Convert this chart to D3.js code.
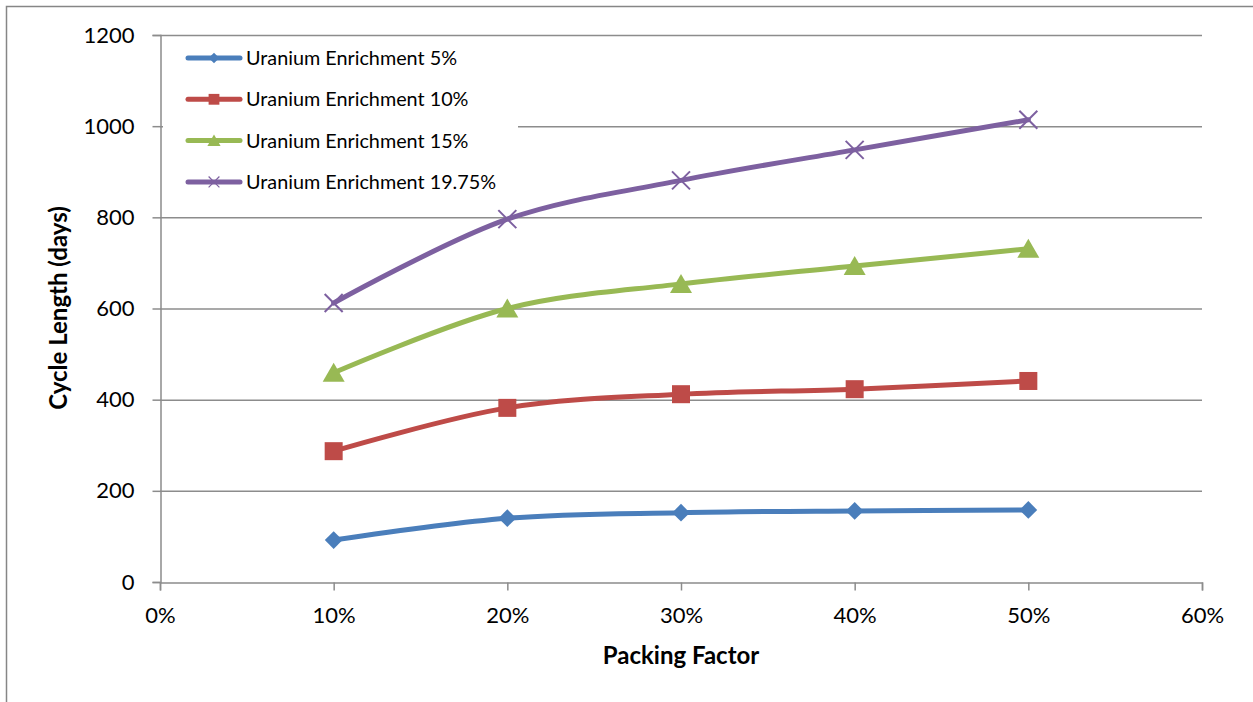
<!DOCTYPE html>
<html>
<head>
<meta charset="utf-8">
<script src="https://cdn.jsdelivr.net/npm/d3@7"></script>
<style>
  body { margin: 0; background: #fff; }
  svg { font-family: Lato, "Open Sans", sans-serif; }
</style>
</head>
<body>
<div id="chart"></div>
<script>
// data
const packing = [0.1, 0.2, 0.3, 0.4, 0.5];
const enrich5 = [92, 140, 152, 156, 158];
const enrich10 = [287, 382, 412, 423, 441];
const enrich15 = [459, 600, 654, 693, 731];
const enrich1975 = [612, 796, 881, 948, 1014];
const seriesNames = ["Uranium Enrichment 5%", "Uranium Enrichment 10%", "Uranium Enrichment 15%", "Uranium Enrichment 19.75%"];
const xTicks = [0, 0.1, 0.2, 0.3, 0.4, 0.5, 0.6];
const yTicks = [0, 200, 400, 600, 800, 1000, 1200];

const W = 1253, H = 702;
const svg = d3.select("#chart").append("svg").attr("width", W).attr("height", H);

// outer chart border
svg.append("rect").attr("x", 6.5).attr("y", 6.5).attr("width", W + 10).attr("height", H + 10)
  .attr("fill", "none").attr("stroke", "#868686").attr("stroke-width", 1.5);

const x = d3.scaleLinear().domain([0, 0.6]).range([160, 1202]);
const y = d3.scaleLinear().domain([0, 1200]).range([582, 35]);

// gridlines
svg.append("g").selectAll("line").data(yTicks.filter(d => d > 0)).enter().append("line")
  .attr("x1", x(0)).attr("x2", x(0.6))
  .attr("y1", d => y(d) + 0.5).attr("y2", d => y(d) + 0.5)
  .attr("stroke", "#8c8c8c").attr("stroke-width", 1.5);

// axes
const yAxis = svg.append("g").attr("transform", "translate(" + (x(0) + 0.5) + ",0)")
  .call(d3.axisLeft(y).tickValues(yTicks).tickSize(8).tickPadding(18).tickFormat(d3.format("d")));
const xAxis = svg.append("g").attr("transform", "translate(0," + (y(0) + 0.5) + ")")
  .call(d3.axisBottom(x).tickValues(xTicks).tickSize(8).tickPadding(17).tickFormat(d3.format(".0%")));
[yAxis, xAxis].forEach(a => {
  a.select(".domain").attr("stroke", "#8c8c8c").attr("stroke-width", 1.5);
  a.selectAll(".tick line").attr("stroke", "#8c8c8c").attr("stroke-width", 1.5);
  a.selectAll("text").attr("fill", "#000").style("font-size", "22px").style("font-family", "Lato, 'Open Sans', sans-serif");
});

// axis titles
svg.append("text").attr("x", x(0.3)).attr("y", 664).attr("text-anchor", "middle")
  .style("font-size", "24px").style("font-weight", "bold").text("Packing Factor");
svg.append("text").attr("transform", "translate(67,308) rotate(-90)").attr("text-anchor", "middle")
  .style("font-size", "24px").style("font-weight", "bold").text("Cycle Length (days)");

const colors = ["#4a7ebb", "#be4b48", "#98b954", "#7d60a0"];
const allSeries = [enrich5, enrich10, enrich15, enrich1975];

const line = d3.line().x(d => x(d[0])).y(d => y(d[1])).curve(d3.curveCatmullRom.alpha(0.5));

function marker(g, i, cx, cy) {
  const c = colors[i];
  if (i === 0) {
    g.append("path").attr("d", d3.symbol().type(d3.symbolDiamond2).size(200)())
      .attr("transform", "translate(" + cx + "," + cy + ")").attr("fill", c);
  } else if (i === 1) {
    g.append("rect").attr("x", cx - 9).attr("y", cy - 9).attr("width", 18).attr("height", 18).attr("fill", c);
  } else if (i === 2) {
    g.append("path").attr("d", "M0,-11L11,8L-11,8Z")
      .attr("transform", "translate(" + cx + "," + (cy + 1) + ")").attr("fill", c);
  } else {
    g.append("path").attr("d", "M-9,-9L9,9M-9,9L9,-9")
      .attr("transform", "translate(" + cx + "," + cy + ")").attr("stroke", c).attr("stroke-width", 2).attr("fill", "none");
  }
}

// legend box (white background covers gridline)
svg.append("rect").attr("x", 163).attr("y", 38).attr("width", 355).attr("height", 160).attr("fill", "#fff");

allSeries.forEach((vals, i) => {
  const pts = packing.map((p, j) => [p, vals[j]]);
  const g = svg.append("g");
  g.append("path").datum(pts).attr("d", line).attr("fill", "none")
    .attr("stroke", colors[i]).attr("stroke-width", 5).attr("stroke-linecap", "round");
  pts.forEach(p => marker(g, i, x(p[0]), y(p[1])));
});

// legend
seriesNames.forEach((name, i) => {
  const ly = 58 + i * 41.3;
  const g = svg.append("g");
  g.append("line").attr("x1", 188).attr("x2", 240).attr("y1", ly).attr("y2", ly)
    .attr("stroke", colors[i]).attr("stroke-width", 5).attr("stroke-linecap", "round");
  g.append("g").attr("transform", "translate(214," + ly + ") scale(0.6)").call(s => marker(s, i, 0, 0));
  g.append("text").attr("x", 246).attr("y", ly + 7).style("font-size", "19.8px").text(name);
});
</script>
</body>
</html>
